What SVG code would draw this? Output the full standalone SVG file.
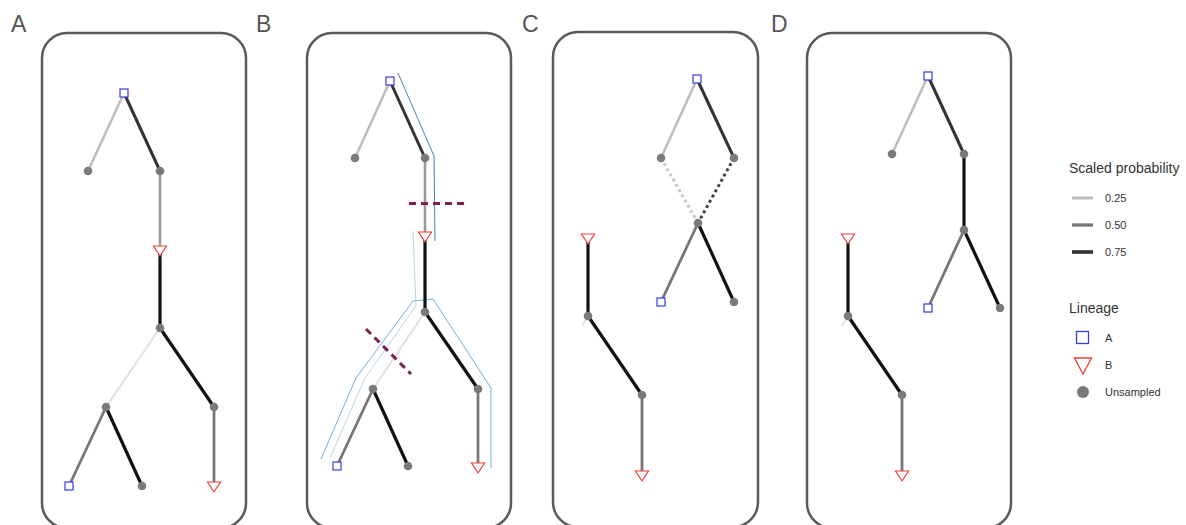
<svg xmlns="http://www.w3.org/2000/svg" width="1186" height="525" viewBox="0 0 1186 525">
<style>
.panel{fill:none;stroke:#5a5a5a;stroke-width:2.5}
.plabel{font-family:"Liberation Sans",Arial,sans-serif;font-size:23px;fill:#555}
.e25{stroke:#bdbdbd;stroke-width:2.5;fill:none}
.e10{stroke:#e0e0e0;stroke-width:2;fill:none}
.e40{stroke:#999;stroke-width:2.6;fill:none}
.e50{stroke:#777;stroke-width:2.8;fill:none}
.e75{stroke:#333;stroke-width:3;fill:none}
.e90{stroke:#111;stroke-width:3.2;fill:none}
.d25{stroke:#c8c8c8;stroke-width:3;stroke-dasharray:3 3;fill:none}
.d75{stroke:#444;stroke-width:3;stroke-dasharray:3 3;fill:none}
.cut{stroke:#7b2350;stroke-width:3;stroke-dasharray:7 5;fill:none}
.blue{stroke:#4a7fbf;stroke-width:1;fill:none}
.blue2{stroke:#6cb0e6;stroke-width:1;fill:none}
.pale{stroke:#b5d8e6;stroke-width:1;fill:none}
.sq{fill:#fff;stroke:#3a3ae0;stroke-width:1.2}
.tri{fill:#fff;stroke:#e8403a;stroke-width:1.2}
.un{fill:#7a7a7a}
.lt{font-family:"Liberation Sans",Arial,sans-serif;fill:#333}
</style>

<!-- Panels -->
<g id="panelA"><rect class="panel" x="42" y="33" width="204" height="495" rx="25"/><text class="plabel" x="11" y="32">A</text></g>
<g id="panelB"><rect class="panel" x="307" y="33" width="204" height="495" rx="25"/><text class="plabel" x="256" y="32">B</text></g>
<g id="panelC"><rect class="panel" x="553" y="32" width="205" height="495" rx="25"/><text class="plabel" x="522" y="32">C</text></g>
<g id="panelD"><rect class="panel" x="807" y="33" width="204" height="495" rx="25"/><text class="plabel" x="771" y="32">D</text></g>

<!-- Connectors -->
<g id="connectors">
  <!-- A -->
  <line class="e25" x1="124" y1="93" x2="88" y2="171"/>
  <line class="e75" x1="124" y1="93" x2="160" y2="171"/>
  <line class="e40" x1="160" y1="171" x2="160" y2="250"/>
  <line class="e90" x1="160" y1="250" x2="160" y2="328"/>
  <line class="e10" x1="160" y1="328" x2="106" y2="407"/>
  <line class="e90" x1="160" y1="328" x2="214" y2="407"/>
  <line class="e50" x1="106" y1="407" x2="69" y2="486"/>
  <line class="e90" x1="106" y1="407" x2="142" y2="486"/>
  <line class="e50" x1="214" y1="407" x2="214" y2="486"/>
  <!-- B -->
  <polyline class="blue" points="398,73 434,156 435,241"/>
  <polyline class="pale" points="413,231 416,306 365,378 330,458"/>
  <polyline class="blue2" points="321,459 356,378 413,301 433,299 491,388 491,468"/>
  <line class="e25" x1="390" y1="81" x2="355" y2="158"/>
  <line class="e75" x1="390" y1="81" x2="425" y2="158"/>
  <line class="e40" x1="425" y1="158" x2="425" y2="236"/>
  <line class="e90" x1="425" y1="236" x2="425" y2="312"/>
  <line class="e10" x1="425" y1="312" x2="373" y2="389"/>
  <line class="e90" x1="425" y1="312" x2="478" y2="389"/>
  <line class="e50" x1="373" y1="389" x2="337" y2="466"/>
  <line class="e90" x1="373" y1="389" x2="408" y2="466"/>
  <line class="e50" x1="478" y1="389" x2="478" y2="467"/>
  <line class="cut" x1="409" y1="203.5" x2="466" y2="203.5"/>
  <line class="cut" x1="366" y1="329" x2="411" y2="374"/>
  <!-- C -->
  <line class="e25" x1="697" y1="79" x2="661" y2="158"/>
  <line class="e75" x1="697" y1="79" x2="734" y2="158"/>
  <line class="d25" x1="661" y1="158" x2="698" y2="223"/>
  <line class="d75" x1="734" y1="158" x2="698" y2="223"/>
  <line class="e50" x1="698" y1="223" x2="661" y2="302"/>
  <line class="e90" x1="698" y1="223" x2="734" y2="302"/>
  <line class="e90" x1="588" y1="238" x2="588" y2="316"/>
  <line class="e10" x1="588" y1="316" x2="582" y2="326"/>
  <line class="e90" x1="588" y1="316" x2="642" y2="395"/>
  <line class="e50" x1="642" y1="395" x2="642" y2="475"/>
  <!-- D -->
  <line class="e25" x1="928" y1="76" x2="892" y2="154"/>
  <line class="e75" x1="928" y1="76" x2="964" y2="154"/>
  <line class="e90" x1="964" y1="154" x2="964" y2="230"/>
  <line class="e50" x1="964" y1="230" x2="928" y2="308"/>
  <line class="e90" x1="964" y1="230" x2="1000" y2="308"/>
  <line class="e90" x1="848" y1="238" x2="848" y2="316"/>
  <line class="e10" x1="848" y1="316" x2="842" y2="326"/>
  <line class="e90" x1="848" y1="316" x2="902" y2="395"/>
  <line class="e50" x1="902" y1="395" x2="902" y2="475"/>
</g>

<!-- Nodes A -->
<g id="A_n1"><rect class="sq" x="120" y="89" width="8" height="8"/></g>
<g id="A_n2"><circle class="un" cx="88" cy="171" r="4.3"/></g>
<g id="A_n3"><circle class="un" cx="160" cy="171" r="4.3"/></g>
<g id="A_n4"><polygon class="tri" points="153.5,246 166.5,246 160,256"/></g>
<g id="A_n5"><circle class="un" cx="160" cy="328" r="4.3"/></g>
<g id="A_n6"><circle class="un" cx="106" cy="407" r="4.3"/></g>
<g id="A_n7"><circle class="un" cx="214" cy="407" r="4.3"/></g>
<g id="A_n8"><rect class="sq" x="65" y="482" width="8" height="8"/></g>
<g id="A_n9"><circle class="un" cx="142" cy="486" r="4.3"/></g>
<g id="A_n10"><polygon class="tri" points="207.5,482 220.5,482 214,492"/></g>

<!-- Nodes B -->
<g id="B_n1"><rect class="sq" x="386" y="77" width="8" height="8"/></g>
<g id="B_n2"><circle class="un" cx="355" cy="158" r="4.3"/></g>
<g id="B_n3"><circle class="un" cx="425" cy="158" r="4.3"/></g>
<g id="B_n4"><polygon class="tri" points="418.5,232 431.5,232 425,242"/></g>
<g id="B_n5"><circle class="un" cx="425" cy="312" r="4.3"/></g>
<g id="B_n6"><circle class="un" cx="373" cy="389" r="4.3"/></g>
<g id="B_n7"><circle class="un" cx="478" cy="389" r="4.3"/></g>
<g id="B_n8"><rect class="sq" x="333" y="462" width="8" height="8"/></g>
<g id="B_n9"><circle class="un" cx="408" cy="466" r="4.3"/></g>
<g id="B_n10"><polygon class="tri" points="471.5,463 484.5,463 478,473"/></g>

<!-- Nodes C -->
<g id="C_n1"><rect class="sq" x="693" y="75" width="8" height="8"/></g>
<g id="C_n2"><circle class="un" cx="661" cy="158" r="4.3"/></g>
<g id="C_n3"><circle class="un" cx="734" cy="158" r="4.3"/></g>
<g id="C_n4"><circle class="un" cx="698" cy="223" r="4.3"/></g>
<g id="C_n5"><rect class="sq" x="657" y="298" width="8" height="8"/></g>
<g id="C_n6"><circle class="un" cx="734" cy="302" r="4.3"/></g>
<g id="C_n7"><polygon class="tri" points="581.5,234 594.5,234 588,244"/></g>
<g id="C_n8"><circle class="un" cx="588" cy="316" r="4.3"/></g>
<g id="C_n9"><circle class="un" cx="642" cy="395" r="4.3"/></g>
<g id="C_n10"><polygon class="tri" points="635.5,471 648.5,471 642,481"/></g>

<!-- Nodes D -->
<g id="D_n1"><rect class="sq" x="924" y="72" width="8" height="8"/></g>
<g id="D_n2"><circle class="un" cx="892" cy="154" r="4.3"/></g>
<g id="D_n3"><circle class="un" cx="964" cy="154" r="4.3"/></g>
<g id="D_n4"><circle class="un" cx="964" cy="230" r="4.3"/></g>
<g id="D_n5"><rect class="sq" x="924" y="304" width="8" height="8"/></g>
<g id="D_n6"><circle class="un" cx="1000" cy="308" r="4.3"/></g>
<g id="D_n7"><polygon class="tri" points="841.5,234 854.5,234 848,244"/></g>
<g id="D_n8"><circle class="un" cx="848" cy="316" r="4.3"/></g>
<g id="D_n9"><circle class="un" cx="902" cy="395" r="4.3"/></g>
<g id="D_n10"><polygon class="tri" points="895.5,471 908.5,471 902,481"/></g>

<!-- Legend -->
<g id="legend">
  <text class="lt" x="1069" y="173" font-size="14">Scaled probability</text>
  <line x1="1072" y1="198" x2="1093" y2="198" stroke="#bdbdbd" stroke-width="3"/>
  <text class="lt" x="1105" y="202" font-size="11">0.25</text>
  <line x1="1072" y1="225" x2="1093" y2="225" stroke="#777" stroke-width="3.3"/>
  <text class="lt" x="1105" y="229" font-size="11">0.50</text>
  <line x1="1072" y1="252" x2="1093" y2="252" stroke="#333" stroke-width="3.6"/>
  <text class="lt" x="1105" y="256" font-size="11">0.75</text>
  <text class="lt" x="1069" y="313" font-size="14">Lineage</text>
  <rect x="1076.5" y="331.5" width="12" height="12" fill="#fff" stroke="#3a3ae0" stroke-width="1.3"/>
  <text class="lt" x="1105" y="342" font-size="11">A</text>
  <polygon points="1074.5,358 1091.5,358 1083,374" fill="#fff" stroke="#e8403a" stroke-width="1.3"/>
  <text class="lt" x="1105" y="369" font-size="11">B</text>
  <circle cx="1083" cy="392" r="6" fill="#7a7a7a"/>
  <text class="lt" x="1105" y="396" font-size="11">Unsampled</text>
</g>
</svg>
